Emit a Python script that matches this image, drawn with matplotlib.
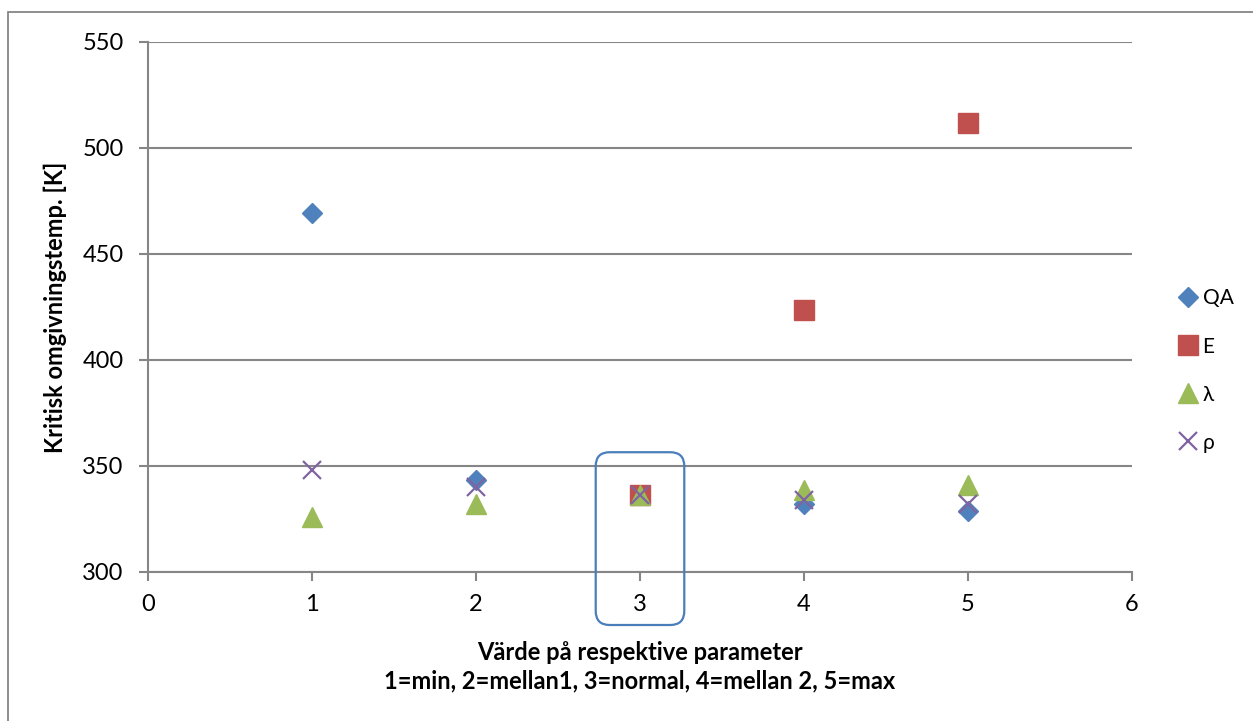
import matplotlib
matplotlib.use("Agg")
import matplotlib.pyplot as plt
from matplotlib.patches import FancyBboxPatch, Rectangle
from matplotlib.transforms import IdentityTransform

plt.rcParams['font.family'] = ['Lato', 'DejaVu Sans']

# parameter level 1..5 (1=min, 3=normal, 5=max)
levels = [1, 2, 3, 4, 5]
qa_vals = [469.3, 343.3, 336.2, 331.9, 328.8]
e_levels = [3, 4, 5]
e_vals = [336.2, 423.4, 511.6]
lam_vals = [326.0, 332.1, 336.2, 338.9, 341.2]
rho_vals = [348.3, 340.1, 336.2, 333.8, 332.3]

yticks = [300, 350, 400, 450, 500, 550]
xticks = [0, 1, 2, 3, 4, 5, 6]

grid_col = '#868686'

fig = plt.figure(figsize=(12.53, 7.21), dpi=100)
ax = fig.add_axes([148 / 1253, 1 - 572 / 721, (1132 - 148) / 1253, (572 - 42) / 721])

ax.plot(levels, qa_vals, linestyle='none', marker='D', ms=10.5, color='#4F81BD', label='QA')
ax.plot(e_levels, e_vals, linestyle='none', marker='s', ms=14, color='#C0504D', label='E')
ax.plot(levels, lam_vals, linestyle='none', marker='^', ms=14.5, color='#9BBB59', label='λ')
ax.plot(levels, rho_vals, linestyle='none', marker='x', ms=13, mew=1.6, color='#8064A2', label='ρ')

ax.set_xlim(0, 6)
ax.set_ylim(300, 550)
ax.set_xticks(xticks)
ax.set_yticks(yticks)
ax.yaxis.grid(True, color=grid_col, lw=1.5)
ax.set_axisbelow(True)
for s in ['top', 'right']:
    ax.spines[s].set_visible(False)
for s in ['left', 'bottom']:
    ax.spines[s].set_color(grid_col)
    ax.spines[s].set_linewidth(1.5)
ax.tick_params(axis='both', direction='out', color=grid_col, width=1.5, length=6.5,
               labelsize=17, labelcolor='black')
ax.tick_params(axis='y', pad=11)
ax.tick_params(axis='x', pad=9)

ax.set_xlabel('Värde på respektive parameter\n1=min, 2=mellan1, 3=normal, 4=mellan 2, 5=max',
              fontsize=17, fontweight='bold', linespacing=1.3, labelpad=19)
ax.set_ylabel('Kritisk omgivningstemp. [K]', fontsize=17, fontweight='bold', labelpad=11)

ax.legend(loc='center left', bbox_to_anchor=(1.04, 0.38), frameon=False, fontsize=15,
          handlelength=0.8, handletextpad=0.3, labelspacing=1.35, borderaxespad=0)

# rounded highlight around the normal level
(x0, y0), (x1, y1) = ax.transData.transform([(2.73, 275.0), (3.27, 356.5)])
box = FancyBboxPatch((x0, y0), x1 - x0, y1 - y0, boxstyle='round,pad=0,rounding_size=14',
                     transform=IdentityTransform(), fill=False, ec='#4A7EBB', lw=1.6)
fig.add_artist(box)

# outer frame
fig.add_artist(Rectangle((8 / 1253, -0.05), 1.2, 0.05 + 1 - 12 / 721, transform=fig.transFigure,
                         fill=False, ec=grid_col, lw=1.3))

fig.savefig('out.png', dpi=100)
